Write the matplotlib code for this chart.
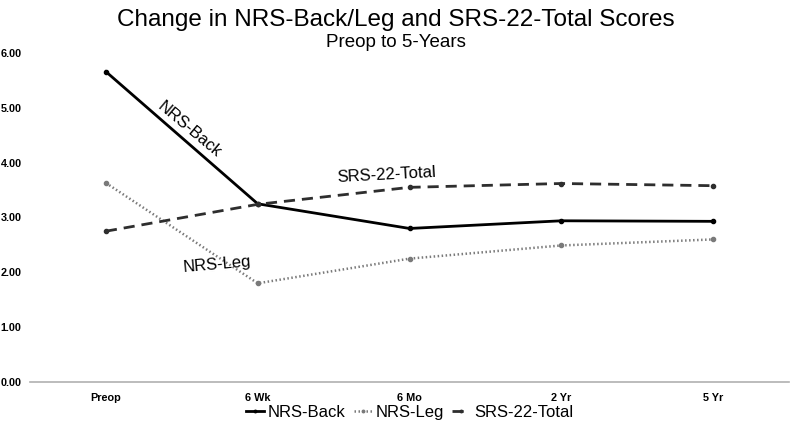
# Change in NRS-Back/Leg and SRS-22-Total Scores
import matplotlib.pyplot as plt

plt.rcParams['font.family'] = ['Liberation Sans', 'DejaVu Sans']

# 資料
time_points = ["Preop", "6 Wk", "6 Mo", "2 Yr", "5 Yr"]
nrs_back = [5.66, 3.25, 2.80, 2.94, 2.93]
nrs_leg = [3.63, 1.80, 2.25, 2.49, 2.60]
srs_total = [2.75, 3.24, 3.55, 3.62, 3.58]

fig = plt.figure(figsize=(7.92, 4.26), dpi=100)
ax = fig.add_axes([30 / 792, 1 - 382 / 426, 759 / 792, 329 / 426])

x = range(len(time_points))
ax.plot(x, nrs_back, color="black", lw=2, ls="-", marker="o", ms=3, label="NRS-Back")
ax.plot(x, nrs_leg, color="#7a7a7a", lw=1.8, ls=(0, (0.6, 1.0)), marker="o", ms=3,
        label="NRS-Leg")
ax.plot(x, srs_total, color="#2e2e2e", lw=2, ls=(0, (4, 2.5)), marker="o", ms=3,
        label="SRS-22-Total")

ax.set_xlim(-0.5, len(time_points) - 0.5)
ax.set_ylim(0, 6)
ax.set_xticks(list(x))
ax.set_xticklabels(time_points, fontsize=7.8, fontweight="bold")
ax.set_yticks([0, 1, 2, 3, 4, 5, 6])
ax.set_yticklabels([f"{v:.2f}" for v in [0, 1, 2, 3, 4, 5, 6]], fontsize=7.8,
                   fontweight="bold", ha="left")
ax.tick_params(axis="y", length=0, pad=21)
ax.tick_params(axis="x", length=0, pad=8)

for s in ["top", "right", "left"]:
    ax.spines[s].set_visible(False)
ax.spines["bottom"].set_color("#b0b0b0")
ax.spines["bottom"].set_linewidth(1.2)

# 線上標籤
ax.text(0.55, 4.6, "NRS-Back", rotation=-40, fontsize=12, ha="center", va="center")
ax.text(1.85, 3.78, "SRS-22-Total", rotation=3, fontsize=12, ha="center", va="center")
ax.text(0.73, 2.15, "NRS-Leg", rotation=5, fontsize=12, ha="center", va="center")

fig.text(0.5, 0.952, "Change in NRS-Back/Leg and SRS-22-Total Scores", fontsize=17.5,
         ha="center", va="center")
fig.text(0.5, 0.9, "Preop to 5-Years", fontsize=13.5, ha="center", va="center")

ax.legend(loc="upper center", bbox_to_anchor=(0.5, -0.025), ncol=3, frameon=False,
          fontsize=12, handlelength=1.1, handletextpad=0.2, columnspacing=0.5,
          markerscale=0.6)

plt.savefig("out.png", dpi=100)
